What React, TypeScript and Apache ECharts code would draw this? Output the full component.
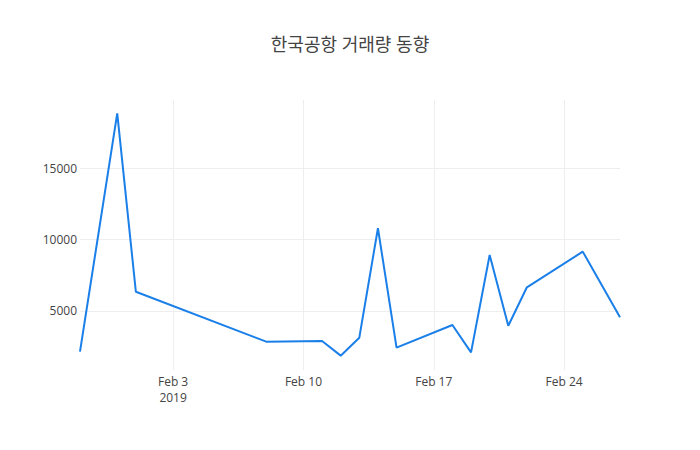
import React, { useEffect, useRef } from "react";
import * as echarts from "echarts";

const dates: string[] = [
  "2019-01-29", "2019-01-31", "2019-02-01", "2019-02-08", "2019-02-11",
  "2019-02-12", "2019-02-13", "2019-02-14", "2019-02-15", "2019-02-18",
  "2019-02-19", "2019-02-20", "2019-02-21", "2019-02-22", "2019-02-25",
  "2019-02-27",
];
const volumes: number[] = [
  2150, 18850, 6350, 2850, 2900,
  1870, 3130, 10800, 2430, 4020,
  2100, 8920, 3970, 6660, 9160,
  4560,
];
const xTickDates: string[] = ["2019-02-03", "2019-02-10", "2019-02-17", "2019-02-24"];
const yTicks: number[] = [5000, 10000, 15000];
const titleText = "한국공항 거래량 동향";
const monthNames = ["Jan", "Feb", "Mar", "Apr", "May", "Jun", "Jul", "Aug", "Sep", "Oct", "Nov", "Dec"];

const ts = (d: string) => Date.parse(d + "T00:00:00Z");

export default function App() {
  const ref = useRef<HTMLDivElement>(null);
  useEffect(() => {
    if (!ref.current) return;
    const chart = echarts.init(ref.current, null, { renderer: "svg" });
    const font = '"Open Sans", "Noto Sans CJK KR", sans-serif';
    const xTicks = xTickDates.map(ts);
    chart.setOption({
      animation: false,
      backgroundColor: "#fff",
      textStyle: { fontFamily: font },
      title: {
        text: titleText,
        left: "center",
        top: 30,
        textStyle: { fontFamily: font, fontSize: 18, fontWeight: "normal", color: "#444" },
      },
      grid: { left: 80, right: 80, top: 100, bottom: 80, containLabel: false },
      xAxis: {
        type: "value",
        min: ts(dates[0]),
        max: ts(dates[dates.length - 1]),
        axisLine: { show: false },
        axisTick: { show: false, customValues: xTicks },
        splitLine: { show: true, lineStyle: { color: "#eeeeee", width: 1 } },
        axisLabel: {
          customValues: xTicks,
          margin: 3,
          color: "#444",
          fontSize: 12,
          fontFamily: font,
          lineHeight: 16,
          formatter: (v: number) => {
            const d = new Date(v);
            const s = monthNames[d.getUTCMonth()] + " " + d.getUTCDate();
            return v === xTicks[0] ? s + "\n" + d.getUTCFullYear() : s;
          },
        },
      },
      yAxis: {
        type: "value",
        min: 865,
        max: 19786,
        axisLine: { show: false },
        axisTick: { show: false, customValues: yTicks },
        splitLine: { show: true, lineStyle: { color: "#eeeeee", width: 1 } },
        axisLabel: {
          customValues: yTicks,
          margin: 3,
          color: "#444",
          fontSize: 12,
          fontFamily: font,
          formatter: (v: number) => String(v),
        },
      },
      series: [
        {
          type: "line",
          data: dates.map((d, i) => [ts(d), volumes[i]]),
          showSymbol: false,
          symbol: "none",
          lineStyle: { color: "#1a7fe8", width: 2 },
          itemStyle: { color: "#1a7fe8" },
        },
      ],
    });
    return () => chart.dispose();
  }, []);
  return <div ref={ref} style={{ width: 700, height: 450, margin: -8 }} />;
}
